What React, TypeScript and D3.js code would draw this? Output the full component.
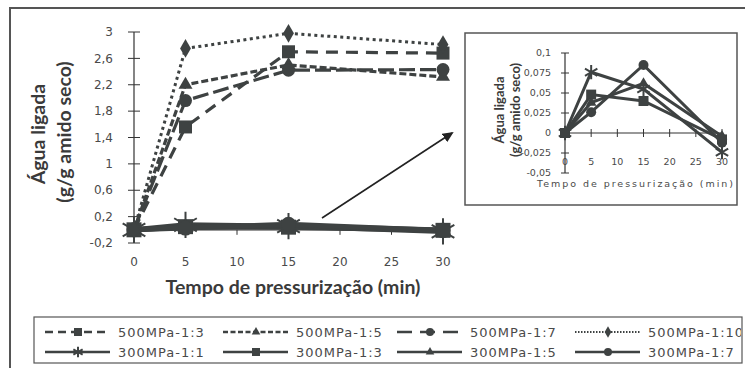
import React from 'react';
import * as d3 from 'd3';

const times = [0, 5, 15, 30];
const s500_13 = [0, 1.56, 2.7, 2.68];
const s500_15 = [0, 2.2, 2.5, 2.32];
const s500_17 = [0, 1.96, 2.42, 2.43];
const s500_110 = [0, 2.75, 2.98, 2.81];
const s300_11 = [0, 0.076, 0.055, -0.024];
const s300_13 = [0, 0.048, 0.04, -0.008];
const s300_15 = [0, 0.038, 0.062, -0.004];
const s300_17 = [0, 0.026, 0.085, -0.012];

const mainXTicks = [0, 5, 10, 15, 20, 25, 30];
const mainYTicks = [-0.2, 0.2, 0.6, 1, 1.4, 1.8, 2.2, 2.6, 3];
const insetXTicks = [0, 5, 10, 15, 20, 25, 30];
const insetYTicks = [-0.05, -0.025, 0, 0.025, 0.05, 0.075, 0.1];

const names500 = ['500MPa-1:3', '500MPa-1:5', '500MPa-1:7', '500MPa-1:10'];
const names300 = ['300MPa-1:1', '300MPa-1:3', '300MPa-1:5', '300MPa-1:7'];

const LINE = '#3e4242';
const TEXT = '#3a3a3a';
const TICK = '#4a4a4a';

type Sym = 'square' | 'triangle' | 'circle' | 'diamond' | 'star';
type Series = { name: string; values: number[]; dash: string; sym: Sym; width: number };

const series500: Series[] = [
  { name: names500[0], values: s500_13, dash: '12,8', sym: 'square', width: 3.2 },
  { name: names500[1], values: s500_15, dash: '7,3', sym: 'triangle', width: 3.2 },
  { name: names500[2], values: s500_17, dash: '16,5', sym: 'circle', width: 3.2 },
  { name: names500[3], values: s500_110, dash: '3,3.5', sym: 'diamond', width: 3 },
];
const series300: Series[] = [
  { name: names300[0], values: s300_11, dash: '', sym: 'star', width: 3 },
  { name: names300[1], values: s300_13, dash: '', sym: 'square', width: 3 },
  { name: names300[2], values: s300_15, dash: '', sym: 'triangle', width: 3 },
  { name: names300[3], values: s300_17, dash: '', sym: 'circle', width: 3 },
];

const symMap: Record<string, any> = {
  square: d3.symbolSquare,
  triangle: d3.symbolTriangle,
  circle: d3.symbolCircle,
  diamond: d3.symbolDiamond,
  star: d3.symbolAsterisk,
};

function Marker({ x, y, sym, size }: { x: number; y: number; sym: Sym; size: number }) {
  const area = sym === 'circle' ? (Math.PI * size * size) / 4 : sym === 'diamond' ? size * size * 0.6 : sym === 'triangle' ? size * size * 0.5 : size * size;
  const p = d3.symbol().type(symMap[sym]).size(area)() as string;
  if (sym === 'star') {
    return <path d={p} transform={`translate(${x},${y})`} fill="none" stroke={LINE} strokeWidth={2} />;
  }
  return <path d={p} transform={`translate(${x},${y})`} fill={LINE} stroke="none" />;
}

const fmt = (v: number) => String(+v.toFixed(3)).replace('.', ',');

export default function App() {
  const mx = d3.scaleLinear().domain([0, 30]).range([134, 443]);
  const my = d3.scaleLinear().domain([-0.2, 3]).range([243, 32]);
  const ix = d3.scaleLinear().domain([0, 30]).range([565, 722]);
  const iy = d3.scaleLinear().domain([-0.05, 0.1]).range([173, 53]);

  const mline = (vals: number[]) =>
    d3.line<number>().x((_, i) => mx(times[i])).y((d) => my(d))(vals) as string;
  const iline = (vals: number[]) =>
    d3.line<number>().x((_, i) => ix(times[i])).y((d) => iy(d))(vals) as string;

  const legendCols = [45, 223, 397, 575];
  const legendRows = [332, 352];

  return (
    <div style={{ position: 'absolute', left: 0, top: 0 }}>
      <svg width={745} height={368} style={{ display: 'block', background: '#fff' }}>
        <defs>
          <clipPath id="legclip">
            <rect x={35} y={318} width={706} height={44} />
          </clipPath>
          <marker id="arrow" markerWidth={11} markerHeight={10} refX={9} refY={5} orient="auto" markerUnits="userSpaceOnUse">
            <path d="M0,0 L11,5 L0,10 Z" fill="#222" />
          </marker>
        </defs>
        {/* outer frame */}
        <rect x={10} y={8} width={760} height={380} fill="none" stroke="#555" strokeWidth={2} />

        {/* main axes */}
        <line x1={mx(0)} x2={mx(0)} y1={my(3)} y2={my(-0.2)} stroke="#333" strokeWidth={1.2} />
        {mainYTicks.map((t) => (
          <g key={'my' + t}>
            <line x1={mx(0) - 6} x2={mx(0) + 6} y1={my(t)} y2={my(t)} stroke="#333" strokeWidth={1} />
            <text x={113} y={my(t)} dy="0.35em" textAnchor="end" fontFamily="DejaVu Sans" fontSize={12} fill={TICK}>
              {fmt(t)}
            </text>
          </g>
        ))}
        <line x1={mx(0)} x2={mx(30)} y1={my(0)} y2={my(0)} stroke="#333" strokeWidth={1.2} />
        {mainXTicks.map((t) => (
          <g key={'mx' + t}>
            <line x1={mx(t)} x2={mx(t)} y1={my(0)} y2={my(0) + 5} stroke="#333" strokeWidth={1} />
            <text x={mx(t)} y={262} dy="0.35em" textAnchor="middle" fontFamily="DejaVu Sans" fontSize={12} fill={TICK}>
              {t}
            </text>
          </g>
        ))}
        <text transform="translate(37,134) rotate(-90)" textAnchor="middle" dominantBaseline="central" fontFamily="Lato" fontWeight="bold" fontSize={19.5} fill={TEXT}>
          Água ligada
        </text>
        <text transform="translate(63,132) rotate(-90)" textAnchor="middle" dominantBaseline="central" fontFamily="Lato" fontWeight="bold" fontSize={19.5} fill={TEXT}>
          (g/g amido seco)
        </text>
        <text x={293} y={287} dy="0.35em" textAnchor="middle" fontFamily="Lato" fontWeight="bold" fontSize={19.5} fill={TEXT}>
          Tempo de pressurização (min)
        </text>

        {/* main 300 series */}
        {series300.map((s) => (
          <g key={'m3' + s.name}>
            <path d={mline(s.values)} fill="none" stroke={LINE} strokeWidth={5} />
            {s.values.map((v, i) => (
              <Marker key={i} x={mx(times[i])} y={my(v)} sym={s.sym} size={s.sym === 'star' ? 22 : 15} />
            ))}
          </g>
        ))}
        {/* main 500 series */}
        {series500.map((s) => (
          <g key={'m5' + s.name}>
            <path d={mline(s.values)} fill="none" stroke={LINE} strokeWidth={s.width} strokeDasharray={s.dash} />
            {s.values.map((v, i) => (
              <Marker key={i} x={mx(times[i])} y={my(v)} sym={s.sym} size={13} />
            ))}
          </g>
        ))}

        {/* arrow */}
        <line x1={322} y1={218} x2={452} y2={133} stroke="#222" strokeWidth={1.6} markerEnd="url(#arrow)" />

        {/* inset */}
        <rect x={465} y={33} width={272} height={172} fill="#fff" stroke="#555" strokeWidth={1.5} />
        <line x1={ix(0)} x2={ix(0)} y1={iy(0.1)} y2={iy(-0.05)} stroke="#333" strokeWidth={1.2} />
        {insetYTicks.map((t) => (
          <g key={'iy' + t}>
            <line x1={ix(0) - 4} x2={ix(0) + 4} y1={iy(t)} y2={iy(t)} stroke="#333" strokeWidth={1} />
            <text x={551} y={iy(t)} dy="0.35em" textAnchor="end" fontFamily="DejaVu Sans" fontSize={9.5} fill={TICK}>
              {fmt(t)}
            </text>
          </g>
        ))}
        <line x1={ix(0)} x2={ix(30)} y1={iy(0)} y2={iy(0)} stroke="#333" strokeWidth={1.2} />
        {insetXTicks.map((t) => (
          <g key={'ix' + t}>
            <line x1={ix(t)} x2={ix(t)} y1={iy(0) - 4} y2={iy(0) + 4} stroke="#333" strokeWidth={1} />
            <text x={ix(t)} y={162} dy="0.35em" textAnchor="middle" fontFamily="DejaVu Sans" fontSize={9.5} fill={TICK}>
              {t}
            </text>
          </g>
        ))}
        <text transform="translate(499,110) rotate(-90)" textAnchor="middle" dominantBaseline="central" fontFamily="Lato" fontWeight="bold" fontSize={13} fill={TEXT}>
          Água ligada
        </text>
        <text transform="translate(515,110) rotate(-90)" textAnchor="middle" dominantBaseline="central" fontFamily="Lato" fontWeight="bold" fontSize={13} fill={TEXT}>
          (g/g amido seco)
        </text>
        <text x={635} y={184} dy="0.35em" textAnchor="middle" fontFamily="DejaVu Sans" fontSize={9.5} fill={TICK} textLength={196} lengthAdjust="spacing">
          Tempo de pressurização (min)
        </text>
        {series300.map((s) => (
          <g key={'i3' + s.name}>
            <path d={iline(s.values)} fill="none" stroke={LINE} strokeWidth={3} />
            {s.values.map((v, i) => (
              <Marker key={i} x={ix(times[i])} y={iy(v)} sym={s.sym} size={s.sym === 'star' ? 12 : 10} />
            ))}
          </g>
        ))}

        {/* legend */}
        <rect x={34} y={317} width={708} height={46} fill="#fff" stroke="#555" strokeWidth={1.2} />
        <g clipPath="url(#legclip)">
          {[series500, series300].map((row, r) =>
            row.map((s, c) => {
              const x0 = legendCols[c];
              const y0 = legendRows[r];
              return (
                <g key={'lg' + s.name}>
                  <line x1={x0} x2={x0 + 65} y1={y0} y2={y0} stroke={LINE} strokeWidth={s.sym === 'diamond' && r === 0 ? 2 : 2.5} strokeDasharray={r === 0 ? (c === 3 ? '1.5,1.5' : c === 1 ? '5,2.5' : c === 0 ? '8,5' : '15,8') : ''} />
                  <Marker x={x0 + 33} y={y0} sym={s.sym} size={s.sym === 'star' ? 9 : 8} />
                  <text x={x0 + 73} y={y0} dy="0.35em" fontFamily="DejaVu Sans" fontSize={13} letterSpacing={1} fill={TICK}>
                    {s.name}
                  </text>
                </g>
              );
            })
          )}
        </g>
      </svg>
    </div>
  );
}
